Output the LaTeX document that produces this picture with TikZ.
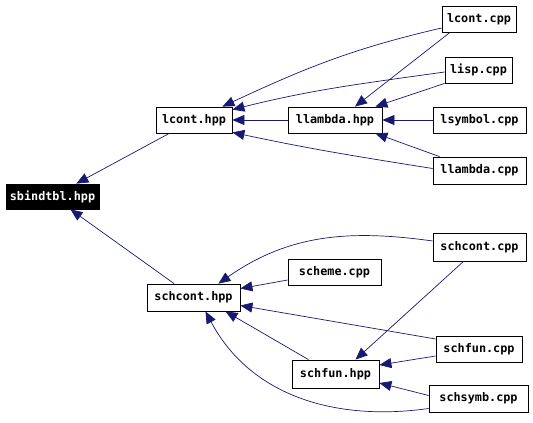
\documentclass[tikz,border=0pt]{standalone}
\usepackage{fontspec}
\setmonofont{DejaVu Sans Mono}
\usepackage{tikz}
\usetikzlibrary{arrows.meta}
\definecolor{depblue}{HTML}{191970}

\begin{document}
\begin{tikzpicture}[x=1pt, y=1pt,
        file/.style={draw, line width=0.8pt, inner sep=0pt,
            font=\ttfamily\bfseries\fontsize{11.8}{13}\selectfont},
        dep/.style={draw=depblue, line width=0.7pt,
            -{Triangle[length=12pt, width=10pt]}, depblue}]
    \useasboundingbox (0,0) rectangle (533,-423);
    \node[file, fill=black, text=white, minimum width=93, minimum height=25] (sbindtbl) at (52.5,-196.5) {sbindtbl.hpp};
    \node[file, minimum width=76, minimum height=26] (lconthpp) at (194,-120) {lcont.hpp};
    \node[file, minimum width=94, minimum height=26] (llambdahpp) at (335,-120) {llambda.hpp};
    \node[file, minimum width=74, minimum height=26] (lcontcpp) at (479,-19) {lcont.cpp};
    \node[file, minimum width=67, minimum height=26] (lispcpp) at (478.5,-70) {lisp.cpp};
    \node[file, minimum width=93, minimum height=26] (lsymbolcpp) at (479.5,-120) {lsymbol.cpp};
    \node[file, minimum width=93, minimum height=27] (llambdacpp) at (479.5,-170.5) {llambda.cpp};
    \node[file, minimum width=93, minimum height=28] (schcontcpp) at (479.5,-247) {schcont.cpp};
    \node[file, minimum width=93, minimum height=26] (schemecpp) at (334.5,-272) {scheme.cpp};
    \node[file, minimum width=93, minimum height=27] (schconthpp) at (193.5,-297.5) {schcont.hpp};
    \node[file, minimum width=86, minimum height=26] (schfuncpp) at (479,-349) {schfun.cpp};
    \node[file, minimum width=87, minimum height=28] (schfunhpp) at (335.5,-374) {schfun.hpp};
    \node[file, minimum width=99, minimum height=27] (schsymbcpp) at (478.5,-398.5) {schsymb.cpp};

    \draw[dep] (lconthpp) -- (sbindtbl);
    \draw[dep] (schconthpp) -- (sbindtbl);
    \draw[dep] ([yshift=-9]lcontcpp.west) to[out=193, in=25] ([xshift=-10]lconthpp.north east);
    \draw[dep] ([xshift=-29]lcontcpp.south) -- ([xshift=20]llambdahpp.north);
    \draw[dep] ([yshift=-2]lispcpp.west) to[out=188, in=14] ([yshift=-3]lconthpp.north east);
    \draw[dep] (lispcpp.south west) -- ([xshift=-7]llambdahpp.north east);
    \draw[dep] (llambdahpp) -- (lconthpp);
    \draw[dep] (lsymbolcpp) -- (llambdahpp);
    \draw[dep] ([yshift=2]llambdacpp.west) to[out=171, in=-12] ([yshift=1]lconthpp.south east);
    \draw[dep] ([xshift=7]llambdacpp.north west) -- ([xshift=-7]llambdahpp.south east);
    \draw[dep] ([yshift=6]schcontcpp.west) to[out=172, in=35] ([xshift=-22]schconthpp.north east);
    \draw[dep] ([xshift=-16]schcontcpp.south) -- ([xshift=20]schfunhpp.north);
    \draw[dep] ([yshift=-8]schemecpp.west) -- ([yshift=9]schconthpp.east);
    \draw[dep] ([yshift=10]schfuncpp.west) -- ([yshift=-8]schconthpp.east);
    \draw[dep] ([xshift=-27]schfunhpp.north) -- ([xshift=32]schconthpp.south);
    \draw[dep] ([yshift=-7]schfuncpp.west) -- ([yshift=9]schfunhpp.east);
    \draw[dep] ([yshift=3]schsymbcpp.west) -- ([yshift=-9]schfunhpp.east);
    \draw[dep] ([yshift=-10]schsymbcpp.west) to[out=188, in=-62] ([xshift=12]schconthpp.south);
\end{tikzpicture}
\end{document}
